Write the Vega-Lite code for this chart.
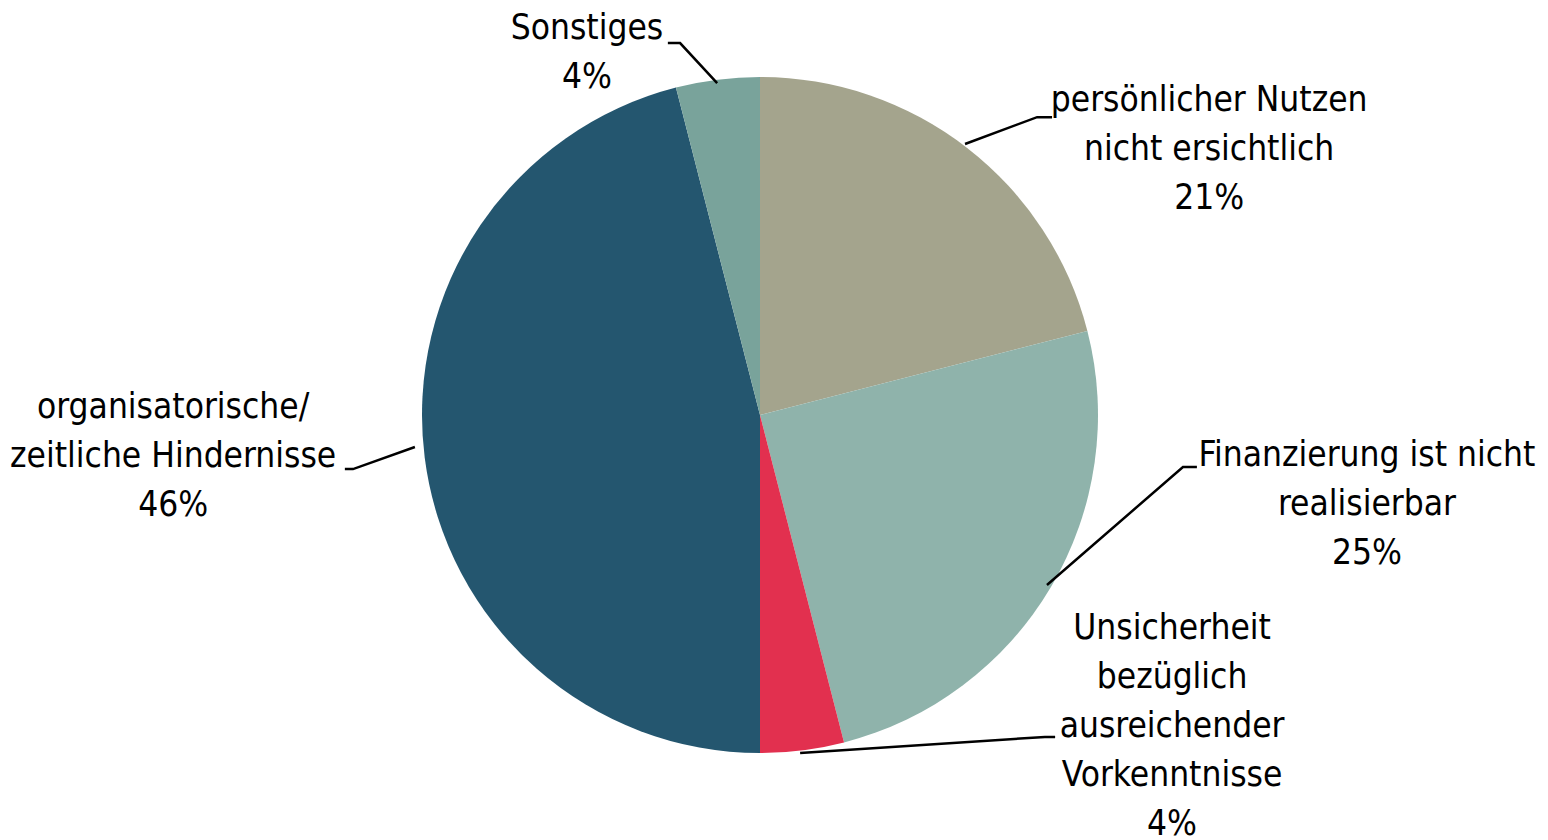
{
  "$schema": "https://vega.github.io/schema/vega-lite/v6.json",
  "width": 1520,
  "height": 830,
  "autosize": "none",
  "padding": {"left": 0, "top": 0, "right": 28, "bottom": 10},
  "background": "white",
  "config": {"view": {"stroke": null}, "font": "DejaVu Sans Condensed, Roboto, sans-serif"},
  "datasets": {
    "slices": [
      {"idx": 1, "category": "persönlicher Nutzen nicht ersichtlich", "value": 21},
      {"idx": 2, "category": "Finanzierung ist nicht realisierbar", "value": 25},
      {"idx": 3, "category": "Unsicherheit bezüglich ausreichender Vorkenntnisse", "value": 4},
      {"idx": 4, "category": "organisatorische/ zeitliche Hindernisse", "value": 46},
      {"idx": 5, "category": "Sonstiges", "value": 4}
    ],
    "labels": [
      {"category": "Sonstiges", "label": "Sonstiges\n4%", "x": -0.509, "y": 1.1382},
      {"category": "persönlicher Nutzen nicht ersichtlich", "label": "persönlicher Nutzen\nnicht ersichtlich\n21%", "x": 1.321, "y": 0.9265},
      {"category": "Finanzierung ist nicht realisierbar", "label": "Finanzierung ist nicht\nrealisierbar\n25%", "x": 1.785, "y": -0.1176},
      {"category": "Unsicherheit bezüglich ausreichender Vorkenntnisse", "label": "Unsicherheit\nbezüglich\nausreichender\nVorkenntnisse\n4%", "x": 1.212, "y": -0.6265},
      {"category": "organisatorische/ zeitliche Hindernisse", "label": "organisatorische/\nzeitliche Hindernisse\n46%", "x": -1.726, "y": 0.0235}
    ],
    "leaders": [
      {"category": "Sonstiges", "step": 1, "x": -0.271, "y": 1.094},
      {"category": "Sonstiges", "step": 2, "x": -0.235, "y": 1.094},
      {"category": "Sonstiges", "step": 3, "x": -0.126, "y": 0.976},
      {"category": "persönlicher", "step": 1, "x": 0.859, "y": 0.876},
      {"category": "persönlicher", "step": 2, "x": 0.815, "y": 0.876},
      {"category": "persönlicher", "step": 3, "x": 0.603, "y": 0.797},
      {"category": "Finanzierung", "step": 1, "x": 1.285, "y": -0.153},
      {"category": "Finanzierung", "step": 2, "x": 1.244, "y": -0.153},
      {"category": "Finanzierung", "step": 3, "x": 0.844, "y": -0.5},
      {"category": "Unsicherheit", "step": 1, "x": 0.868, "y": -0.947},
      {"category": "Unsicherheit", "step": 2, "x": 0.838, "y": -0.947},
      {"category": "Unsicherheit", "step": 3, "x": 0.118, "y": -0.994},
      {"category": "organisatorische", "step": 1, "x": -1.221, "y": -0.159},
      {"category": "organisatorische", "step": 2, "x": -1.197, "y": -0.159},
      {"category": "organisatorische", "step": 3, "x": -1.015, "y": -0.094}
    ]
  },
  "layer": [
    {
      "data": {"name": "slices"},
      "mark": {"type": "arc", "outerRadius": 338},
      "encoding": {
        "theta": {"field": "value", "type": "quantitative", "stack": true},
        "order": {"field": "idx", "type": "quantitative"},
        "color": {
          "field": "category",
          "type": "nominal",
          "scale": {
            "domain": ["persönlicher Nutzen nicht ersichtlich", "Finanzierung ist nicht realisierbar", "Unsicherheit bezüglich ausreichender Vorkenntnisse", "organisatorische/ zeitliche Hindernisse", "Sonstiges"],
            "range": ["#a4a48d", "#8fb3ab", "#e2304f", "#24566f", "#79a39b"]
          },
          "legend": null
        }
      }
    },
    {
      "data": {"name": "leaders"},
      "mark": {"type": "line", "stroke": "#000000", "strokeWidth": 2.5},
      "encoding": {
        "x": {"field": "x", "type": "quantitative", "scale": {"domain": [-2.2353, 2.2353], "nice": false, "zero": false}, "axis": null},
        "y": {"field": "y", "type": "quantitative", "scale": {"domain": [-1.2206, 1.2206], "nice": false, "zero": false}, "axis": null},
        "detail": {"field": "category", "type": "nominal"},
        "order": {"field": "step", "type": "quantitative"}
      }
    },
    {
      "data": {"name": "labels"},
      "mark": {"type": "text", "fontSize": 35, "lineHeight": 49, "lineBreak": "\n", "align": "center", "baseline": "middle", "color": "#000000", "font": "DejaVu Sans Condensed, Roboto, sans-serif"},
      "encoding": {
        "x": {"field": "x", "type": "quantitative", "scale": {"domain": [-2.2353, 2.2353], "nice": false, "zero": false}, "axis": null},
        "y": {"field": "y", "type": "quantitative", "scale": {"domain": [-1.2206, 1.2206], "nice": false, "zero": false}, "axis": null},
        "text": {"field": "label", "type": "nominal"}
      }
    }
  ]
}
